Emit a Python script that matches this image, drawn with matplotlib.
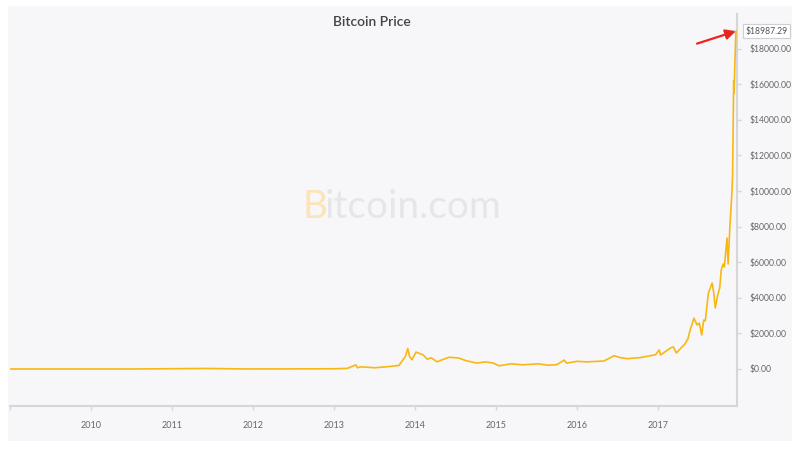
import pandas as pd
import numpy as np
import matplotlib
matplotlib.use("Agg")
import matplotlib.pyplot as plt
from matplotlib.ticker import FuncFormatter

# price history (USD)
dates = [
    "2009-01-03", "2010-07-15", "2011-06-08", "2011-11-20", "2012-06-01",
    "2012-12-31", "2013-03-01", "2013-04-09", "2013-04-16", "2013-05-01",
    "2013-07-05", "2013-09-01", "2013-10-20", "2013-11-18", "2013-11-29",
    "2013-12-07", "2013-12-18", "2014-01-05", "2014-02-05", "2014-02-25",
    "2014-03-15", "2014-04-10", "2014-04-25", "2014-06-03", "2014-07-15",
    "2014-08-18", "2014-10-05", "2014-11-15", "2014-12-20", "2015-01-14",
    "2015-03-10", "2015-05-01", "2015-07-10", "2015-08-25", "2015-10-01",
    "2015-11-04", "2015-11-15", "2016-01-01", "2016-02-15", "2016-05-01",
    "2016-06-17", "2016-07-10", "2016-08-15", "2016-10-12", "2016-12-20",
    "2017-01-05", "2017-01-12", "2017-02-25", "2017-03-10", "2017-03-24",
    "2017-04-15", "2017-05-01", "2017-05-15", "2017-05-25", "2017-06-11",
    "2017-06-25", "2017-07-05", "2017-07-16", "2017-07-25", "2017-08-01",
    "2017-08-15", "2017-09-01", "2017-09-08", "2017-09-15", "2017-09-25",
    "2017-10-05", "2017-10-12", "2017-10-20", "2017-10-26", "2017-11-07",
    "2017-11-12", "2017-11-20", "2017-11-29", "2017-12-02", "2017-12-07",
    "2017-12-09", "2017-12-12", "2017-12-17",
]
prices = [
    0, 0.05, 30, 2.5, 5,
    13, 33, 230, 70, 120,
    70, 130, 200, 700, 1150,
    700, 520, 950, 800, 550,
    630, 400, 480, 660, 620,
    470, 330, 400, 330, 180,
    290, 235, 290, 210, 240,
    500, 330, 430, 400, 450,
    750, 650, 580, 640, 800,
    1070, 790, 1180, 1240, 900,
    1200, 1400, 1700, 2200, 2860,
    2470, 2580, 1910, 2750, 2700,
    4270, 4830, 4300, 3430, 4100,
    4550, 5560, 5900, 5730, 7360,
    5900, 8000, 9900, 10800, 16200,
    15500, 17000, 18987.29,
]
year_ticks = [str(y) for y in range(2010, 2018)]
y_ticks = list(range(0, 18001, 2000))

df = pd.DataFrame({"date": pd.to_datetime(dates), "price": prices})

fig = plt.figure(figsize=(7.97, 4.58), dpi=100)
fig.patch.set_facecolor("white")
W, H = 797, 458

# light gray panel behind the chart
bg = fig.add_axes([8 / W, 1 - 441 / H, 784 / W, 435 / H], zorder=0)
bg.set_facecolor("#f7f7f9")
bg.set_xticks([])
bg.set_yticks([])
for s in bg.spines.values():
    s.set_visible(False)

# watermark and title on the panel
bg.text(302 / W, 1 - 207 / H, "B", fontsize=28, color="#fbe5b8", va="center",
        ha="left", family="Lato", transform=fig.transFigure)
bg.text(325 / W, 1 - 207 / H, "itcoin.com", fontsize=28, color="#e6e6e9",
        va="center", ha="left", family="Lato", transform=fig.transFigure)
bg.text(372 / W, 1 - 22 / H, "Bitcoin Price", fontsize=10, color="#444444",
        ha="center", va="center", family="Lato", fontweight="semibold",
        transform=fig.transFigure)

ax = fig.add_axes([10 / W, 1 - 406 / H, 727 / W, 392 / H], zorder=1)
ax.set_facecolor("none")

ax.plot(df["date"], df["price"], color="#f9b712", lw=1.2, zorder=3)

ax.set_xlim(pd.Timestamp("2009-01-01"), pd.Timestamp("2017-12-22"))
ax.set_ylim(-2080, 19950)

for s in ["top", "left"]:
    ax.spines[s].set_visible(False)
for s in ["bottom", "right"]:
    ax.spines[s].set_color("#d6d6da")
    ax.spines[s].set_linewidth(1.5)

ax.yaxis.tick_right()
ax.set_yticks(y_ticks)
ax.yaxis.set_major_formatter(FuncFormatter(lambda v, p: "${:.2f}".format(v)))
ax.set_xticks([pd.Timestamp(y + "-01-01") for y in year_ticks])
ax.set_xticklabels(year_ticks)
ax.set_xticks([pd.Timestamp("2009-01-01")], minor=True)
ax.tick_params(axis="x", which="both", length=3, color="#d6d6da", width=1,
               labelsize=6.5, labelcolor="#666666", pad=8)
ax.tick_params(axis="y", length=3, color="#d6d6da", width=1,
               labelsize=6.2, labelcolor="#666666", pad=6)
for lab in ax.get_xticklabels() + ax.get_yticklabels():
    lab.set_fontfamily("Lato")

# last price label and red arrow
last_d, last_p = df["date"].iloc[-1], df["price"].iloc[-1]
ax.annotate("${:.2f}".format(last_p), xy=(last_d, last_p), xytext=(7, 0),
            textcoords="offset points", ha="left", va="center", fontsize=6.2,
            color="#555555", family="Lato", annotation_clip=False,
            bbox=dict(boxstyle="square,pad=0.3", fc="white", ec="#cfcfd3", lw=0.8))
ax.annotate("", xy=(last_d, last_p), xytext=(-28, -9), textcoords="offset points",
            arrowprops=dict(arrowstyle="-|>,head_length=0.6,head_width=0.3",
                            color="#e8261e", lw=1.6, shrinkA=0, shrinkB=0),
            annotation_clip=False)

fig.savefig("out.png", dpi=100)
